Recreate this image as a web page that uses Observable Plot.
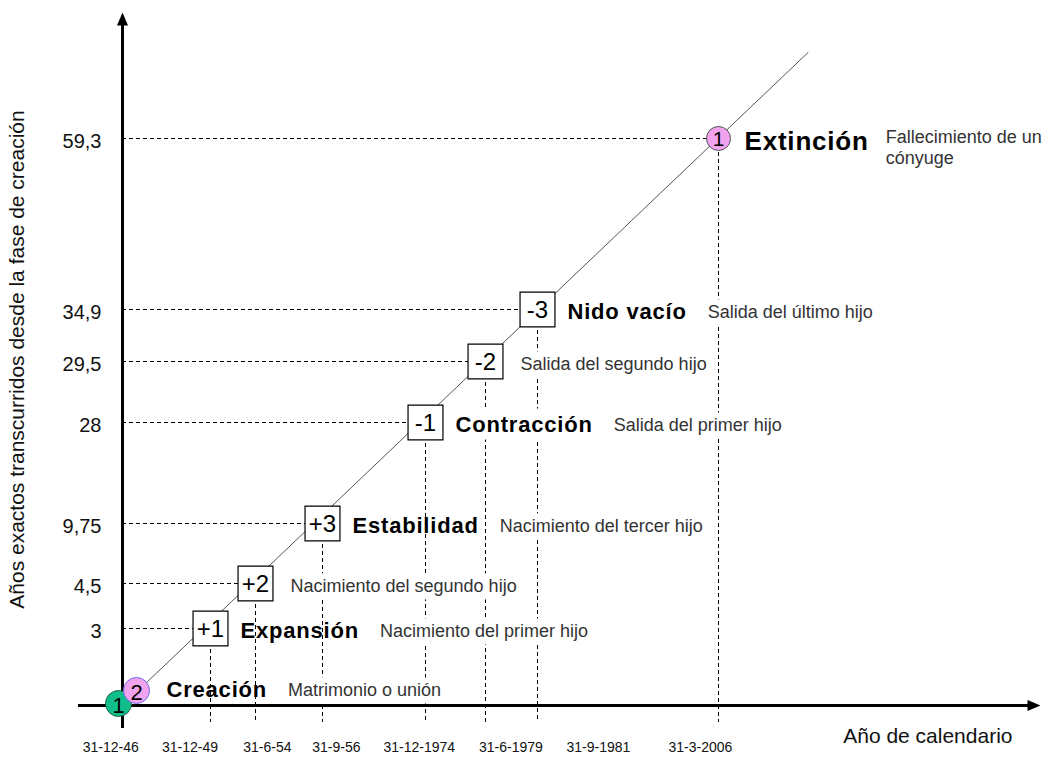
<!DOCTYPE html>
<html><head><meta charset="utf-8">
<script src="https://cdn.jsdelivr.net/npm/d3@7"></script>
<script src="https://cdn.jsdelivr.net/npm/@observablehq/plot@0.6"></script>
<style>
html,body{margin:0;padding:0;background:#fff;}
</style></head><body><div id="chart"></div>
<script>
// ---- data ----
// events along the life cycle of the family (0 = creation ... 7 = extinction)
const eventYears   = [1947.0, 1950.0, 1954.5, 1956.75, 1975.0, 1979.5, 1981.75, 2006.25];
const eventElapsed = [0, 3, 4.5, 9.75, 28, 29.5, 34.9, 59.3];
const eventStage   = ["Creación", "Expansión", "", "Estabilidad", "Contracción", "", "Nido vacío", "Extinción"];
const eventDesc    = ["Matrimonio o unión", "Nacimiento del primer hijo", "Nacimiento del segundo hijo",
                      "Nacimiento del tercer hijo", "Salida del primer hijo", "Salida del segundo hijo",
                      "Salida del último hijo", "Fallecimiento de un\ncónyuge"];
const boxCodes     = ["+1", "+2", "+3", "-1", "-2", "-3"];   // events 1..6
// calendar tick labels and the calendar year where each label sits
const dateLabels   = ["31-12-46", "31-12-49", "31-6-54", "31-9-56", "31-12-1974", "31-6-1979", "31-9-1981", "31-3-2006"];
const dateLabelAt  = [1946.6, 1949.3, 1954.9, 1959.2, 1973.9, 1980.6, 1990.0, 2003.8];
// the diagonal life-line
const diagYears    = [1947.0, 2018.4];
const diagElapsed  = [0, 71.6];

// ---- layout / style ----
const X_RANGE = [122, 210, 255, 322, 425, 485, 537, 718];
const Y_RANGE = [705, 628, 583, 523, 422, 361, 309, 138];
const FONT = '"Liberation Sans", Arial, sans-serif';
const SPACING = 0.8;
const boxedStages = new Set(["Contracción"]);

const ctx = document.createElement("canvas").getContext("2d");
function textWidth(s, size, weight, spacing) {
  ctx.font = `${weight} ${size}px "Liberation Sans"`;
  return ctx.measureText(s).width + spacing * s.length;
}

const arrowUp = {draw(c) { c.moveTo(0, 0); c.lineTo(-5.5, 13); c.lineTo(5.5, 13); c.closePath(); }};
const arrowRight = {draw(c) { c.moveTo(0, 0); c.lineTo(-13, -5.5); c.lineTo(-13, 5.5); c.closePath(); }};

const idx = d3.range(eventYears.length);
const boxIdx = [1, 2, 3, 4, 5, 6];
const X = i => eventYears[i], Y = i => eventElapsed[i];
const dash = {stroke: "#000", strokeWidth: 1, strokeDasharray: "4,3"};

// per-row stage names and descriptions
const rowMarks = [];
idx.forEach(i => {
  const rowDy = i === 0 ? -16 : 2;
  const startDx = i === 0 ? 44 : i === 7 ? 26 : 30;
  const stage = eventStage[i];
  const stageSize = i === 7 ? 26 : 22;
  let descDx = 35;
  if (stage) {
    rowMarks.push(Plot.text([i], {x: X, y: Y, text: d => eventStage[d], textAnchor: "start",
      dx: startDx, dy: i === 7 ? 3 : rowDy, fontSize: stageSize, fontWeight: "bold", fill: "#000"}));
    descDx = startDx + textWidth(stage, stageSize, "bold", SPACING) + (i === 7 ? 17 : 21);
  }
  rowMarks.push(Plot.text([i], {x: X, y: Y, text: d => eventDesc[d], textAnchor: "start",
    dx: descDx, dy: i === 7 ? 8 : rowDy, fontSize: 18, fill: "#333", lineHeight: 1.2}));
});

const chart = Plot.plot({
  width: 1043, height: 758,
  marginTop: 12, marginBottom: 30, marginLeft: 78, marginRight: 3,
  x: {type: "linear", domain: eventYears, range: X_RANGE, axis: null},
  y: {type: "linear", domain: eventElapsed, range: Y_RANGE, axis: null},
  style: {background: "#fff", fontFamily: FONT, overflow: "visible"},
  marks: [
    // dashed guides
    Plot.ruleY(idx.slice(1), {y: Y, x1: () => eventYears[0], x2: X, ...dash}),
    Plot.ruleX(idx.slice(1), {x: X, y1: Y, y2: () => 0, insetBottom: -17, ...dash}),
    // axes with arrowheads
    Plot.ruleY([0], {y: d => d, stroke: "#000", strokeWidth: 3, insetRight: 8}),
    Plot.ruleX([eventYears[0]], {x: d => d, stroke: "#000", strokeWidth: 3, insetTop: 8}),
    Plot.dot([eventYears[0]], {x: d => d, frameAnchor: "top", symbol: arrowUp, fill: "#000", stroke: "none"}),
    Plot.dot([0], {y: d => d, frameAnchor: "right", symbol: arrowRight, fill: "#000", stroke: "none"}),
    // diagonal life-line
    Plot.link([0], {x1: () => diagYears[0], y1: () => diagElapsed[0], x2: () => diagYears[1], y2: () => diagElapsed[1],
      stroke: "#555", strokeWidth: 1}),
    // row labels
    ...rowMarks,
    // boxes +1..-3
    Plot.dot(boxIdx, {x: X, y: Y, symbol: "square", r: 19.7, fill: "#fff", stroke: "#000", strokeWidth: 1.2}),
    Plot.text(boxIdx, {x: X, y: Y, text: i => boxCodes[i - 1], fontSize: 24, dy: 1, fill: "#000"}),
    // circles
    Plot.dot([0], {x: X, y: Y, r: 13, fill: "#10be8a", stroke: "#23604a", strokeWidth: 1, dx: -4, dy: -2}),
    Plot.text([0], {x: X, y: Y, text: () => "1", fontSize: 22, dx: -4, dy: 0, fill: "#000"}),
    Plot.dot([0], {x: X, y: Y, r: 13, fill: "#f2a3f0", stroke: "#6f66e8", strokeWidth: 1, dx: 14, dy: -15}),
    Plot.text([0], {x: X, y: Y, text: () => "2", fontSize: 22, dx: 14, dy: -13, fill: "#000"}),
    Plot.dot([7], {x: X, y: Y, r: 12, fill: "#f2a3f0", stroke: "#555", strokeWidth: 1}),
    Plot.text([7], {x: X, y: Y, text: () => "1", fontSize: 21, dy: 1, fill: "#000"}),
    // y tick labels
    Plot.text(idx.slice(1), {y: Y, text: i => String(eventElapsed[i]).replace(".", ","), frameAnchor: "left",
      textAnchor: "end", dx: 23, dy: 3, fontSize: 20, fill: "#111"}),
    // x tick labels
    Plot.text(idx, {x: i => dateLabelAt[i], text: i => dateLabels[i], frameAnchor: "bottom", dy: 23, fontSize: 14, fill: "#111"}),
    // axis titles
    Plot.text(["Año de calendario"], {text: d => d, frameAnchor: "bottom-right", textAnchor: "end", dx: -28, dy: 14, fontSize: 21, fill: "#111"}),
    Plot.text(["Años exactos transcurridos desde la fase de creación"], {text: d => d, frameAnchor: "left", textAnchor: "middle",
      rotate: -90, dx: -61, dy: -11, fontSize: 21, fill: "#111"})
  ]
});
document.getElementById("chart").appendChild(chart);

// post-render styling: letter spacing of stage names, white text boxes behind descriptions
const NS = "http://www.w3.org/2000/svg";
const stageSet = new Set(eventStage.filter(s => s));
const descFirst = eventDesc.map(s => s.split("\n")[0]);
chart.querySelectorAll("text").forEach(t => {
  const s = t.textContent;
  const isStage = stageSet.has(s);
  const isDesc = descFirst.some(d => s.startsWith(d));
  if (isStage) t.style.letterSpacing = SPACING + "px";
  if (isDesc || (isStage && boxedStages.has(s))) {
    const b = t.getBBox();
    const r = document.createElementNS(NS, "rect");
    r.setAttribute("x", b.x - 11); r.setAttribute("y", b.y - 3);
    r.setAttribute("width", b.width + 22); r.setAttribute("height", b.height + 6);
    r.setAttribute("fill", "#fff");
    if (t.getAttribute("transform")) r.setAttribute("transform", t.getAttribute("transform"));
    t.parentNode.insertBefore(r, t);
  }
});
</script>
</body></html>
